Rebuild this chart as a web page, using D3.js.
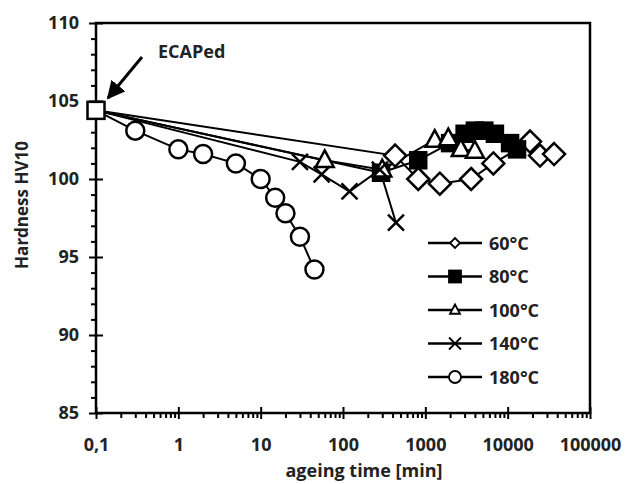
<!DOCTYPE html>
<meta charset='utf-8'>
<style>
  body { margin: 0; background: #fff; }
  text { font-family: 'Open Sans', Arial, sans-serif; font-weight: bold; fill: #222; }
  .axis path { stroke: #000; stroke-width: 2.5; }
  .axis line { stroke: #000; stroke-width: 2; }
</style>
<body>
<script src='https://d3js.org/d3.v7.min.js'></script>
<script>
  // as-ECAPed state (start point of every series)
  const ecaped = [0.1, 104.4]

  // ageing time [min], hardness HV10
  const s60  = [[0.1, 104.4], [430, 101.5], [820, 100.0], [1500, 99.7], [3600, 100.0], [6700, 101.0], [18700, 102.4], [24700, 101.5], [36600, 101.6]]
  const s80  = [[0.1, 104.4], [290, 100.4], [820, 101.2], [2000, 102.3], [3000, 102.9], [4000, 103.1], [5200, 103.1], [7000, 102.9], [10700, 102.3], [13000, 101.9]]
  const s100 = [[0.1, 104.4], [60, 101.2], [300, 100.6], [1300, 102.5], [1900, 102.6], [2700, 101.9], [4000, 101.8]]
  const s140 = [[0.1, 104.4], [30, 101.1], [55, 100.3], [120, 99.2], [280, 100.6], [440, 97.2]]
  const s180 = [[0.1, 104.4], [0.3, 103.1], [1, 101.9], [2, 101.6], [5, 101.0], [10, 100.0], [15, 98.8], [20, 97.8], [30, 96.3], [45, 94.2]]

  const legendLabels = ['60°C', '80°C', '100°C', '140°C', '180°C']
  const xTicks = [0.1, 1, 10, 100, 1000, 10000, 100000]
  const yTicks = [85, 90, 95, 100, 105, 110]

  const margin = {top: 23, right: 37, bottom: 71, left: 96}
  const width = 627 - margin.left - margin.right
  const height = 484 - margin.top - margin.bottom

  const x = d3.scaleLog().domain([0.1, 100000]).range([0, width])
  const y = d3.scaleLinear().domain([85, 110]).range([height, 0])

  const svg = d3.select('body')
    .append('svg')
    .attr('width', 627)
    .attr('height', 484)

  svg.append('defs').append('marker')
    .attr('id', 'arrow')
    .attr('viewBox', '0 0 10 10')
    .attr('refX', 9).attr('refY', 5)
    .attr('markerWidth', 6).attr('markerHeight', 6)
    .attr('orient', 'auto')
    .append('path')
    .attr('d', 'M0,0 L10,5 L0,10 Z')
    .attr('fill', '#000')

  const g = svg.append('g')
    .attr('transform', `translate(${margin.left}, ${margin.top})`)

  // minor ticks
  const xMinor = []
  for (let e = -1; e < 5; e++) for (let k = 2; k <= 9; k++) xMinor.push(k * Math.pow(10, e))
  const yMinor = d3.range(85, 111, 1).filter(v => v % 5 !== 0)

  g.append('g')
    .attr('class', 'axis')
    .attr('transform', `translate(0, ${height})`)
    .call(d3.axisBottom(x).tickValues(xMinor).tickSize(5).tickFormat(''))
    .call(a => a.select('.domain').remove())

  g.append('g')
    .attr('class', 'axis')
    .call(d3.axisLeft(y).tickValues(yMinor).tickSize(5).tickFormat(''))
    .call(a => a.select('.domain').remove())

  // major ticks (crossing the axis)
  const xAxis = g.append('g')
    .attr('class', 'axis')
    .attr('transform', `translate(0, ${height})`)
    .call(d3.axisBottom(x).tickValues(xTicks).tickSize(6)
      .tickFormat(d => d === 0.1 ? '0,1' : d3.format('d')(d)))
  xAxis.selectAll('.tick line').attr('y1', -6)
  xAxis.selectAll('.tick text').attr('y', 25).attr('font-size', 18)
  xAxis.select('.domain').remove()

  const yAxis = g.append('g')
    .attr('class', 'axis')
    .call(d3.axisLeft(y).tickValues(yTicks).tickSize(7))
  yAxis.selectAll('.tick line').attr('x1', 7)
  yAxis.selectAll('.tick text').attr('x', -17).attr('font-size', 18)
  yAxis.select('.domain').remove()

  // frame
  g.append('rect')
    .attr('width', width).attr('height', height)
    .attr('fill', 'none').attr('stroke', '#000').attr('stroke-width', 2.5)

  // axis titles
  svg.append('text')
    .attr('x', 364).attr('y', 477)
    .attr('text-anchor', 'middle').attr('font-size', 18)
    .text('ageing time [min]')

  svg.append('text')
    .attr('transform', 'translate(28, 205) rotate(-90)')
    .attr('text-anchor', 'middle').attr('font-size', 17)
    .text('Hardness HV10')

  // markers
  const sym = {
    diamond: (sel, s) => sel.append('path').attr('d', `M0,${-s}L${s},0L0,${s}L${-s},0Z`),
    square: (sel, s) => sel.append('rect').attr('x', -s).attr('y', -s).attr('width', 2 * s).attr('height', 2 * s),
    triangle: (sel, s) => sel.append('path').attr('d', `M0,${-s * 1.1}L${s},${s * 0.75}L${-s},${s * 0.75}Z`),
    cross: (sel, s) => sel.append('path').attr('d', `M${-s},${-s}L${s},${s}M${-s},${s}L${s},${-s}`),
    circle: (sel, s) => sel.append('circle').attr('r', s)
  }

  const seriesDefs = [
    {data: s60, shape: 'diamond', size: 11, fill: '#fff', lsize: 5},
    {data: s80, shape: 'square', size: 8, fill: '#000', lsize: 6},
    {data: s100, shape: 'triangle', size: 9, fill: '#fff', lsize: 5},
    {data: s140, shape: 'cross', size: 8, fill: 'none', lsize: 6},
    {data: s180, shape: 'circle', size: 9, fill: '#fff', lsize: 6}
  ]

  const line = d3.line().x(d => x(d[0])).y(d => y(d[1]))

  // lines of all series first, then markers in series order
  seriesDefs.forEach(s => {
    g.append('path')
      .attr('d', line(s.data))
      .attr('fill', 'none').attr('stroke', '#000').attr('stroke-width', 2)
  })

  seriesDefs.forEach(s => {
    s.data.slice(1).forEach(d => {
      const m = g.append('g').attr('transform', `translate(${x(d[0])}, ${y(d[1])})`)
      sym[s.shape](m, s.size)
        .attr('fill', s.fill).attr('stroke', '#000').attr('stroke-width', 2.5)
    })
  })

  // ECAPed start point
  const e0 = g.append('g').attr('transform', `translate(${x(ecaped[0])}, ${y(ecaped[1])})`)
  sym.square(e0, 8.5).attr('fill', '#fff').attr('stroke', '#000').attr('stroke-width', 2.5)

  svg.append('text')
    .attr('x', 158).attr('y', 58).attr('font-size', 18)
    .text('ECAPed')
  svg.append('line')
    .attr('x1', 142).attr('y1', 57).attr('x2', 108).attr('y2', 98)
    .attr('stroke', '#000').attr('stroke-width', 3)
    .attr('marker-end', 'url(#arrow)')

  // legend
  const legend = svg.append('g').attr('transform', 'translate(428, 243)')
  seriesDefs.forEach((s, i) => {
    const row = legend.append('g').attr('transform', `translate(0, ${i * 33.5})`)
    row.append('line').attr('x1', 0).attr('x2', 54)
      .attr('stroke', '#000').attr('stroke-width', 2.5)
    const m = row.append('g').attr('transform', 'translate(27, 0)')
    sym[s.shape](m, s.lsize)
      .attr('fill', s.fill).attr('stroke', '#000').attr('stroke-width', 1.8)
    row.append('text').attr('x', 61).attr('y', 6.5).attr('font-size', 18)
      .text(legendLabels[i])
  })
</script>
</body>
